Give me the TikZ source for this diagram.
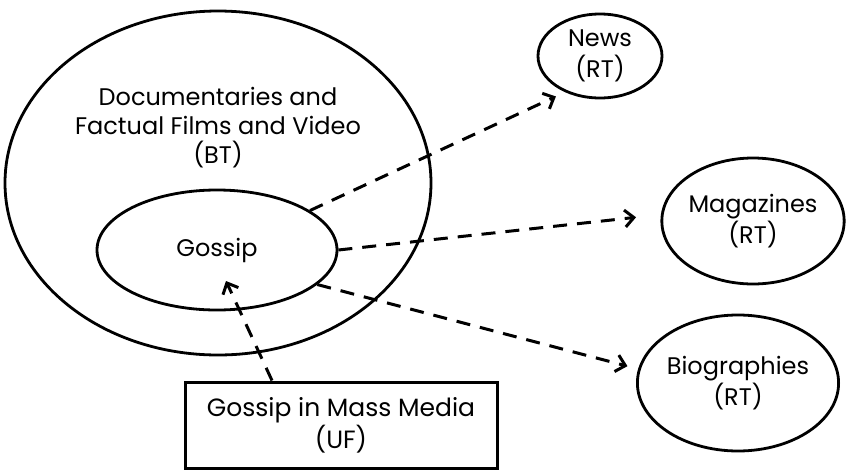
\documentclass[tikz,border=0pt]{standalone}
\usepackage{fontspec}
\setmainfont{Poppins}
\usepackage{tikz}
\usetikzlibrary{shapes,arrows.meta,positioning,calc}

\tikzset{
  term/.style={ellipse,draw,line width=2.8pt,inner sep=0pt,align=center,font=\fontsize{24}{31}\selectfont},
  rel/.style={line width=3pt,dash pattern=on 14pt off 10pt,-{Straight Barb[length=9pt,width=17pt,line width=3pt]}}
}

\begin{document}
\begin{tikzpicture}[x=1pt,y=-1pt]
    \useasboundingbox (0,0) rectangle (847,472);

    % Broader term
    \node[term,minimum width=426pt,minimum height=344pt] (bt) at (218,183) {};
    \node[align=center,font=\fontsize{24}{29}\selectfont] (btlabel) at (218,128) {Documentaries and\\Factual Films and Video\\(BT)};

    % Gossip
    \node[term,minimum width=240pt,minimum height=120pt] (gossip) at (217,250) {Gossip};
    \coordinate (gossipin) at (226,281);

    % Related terms
    \node[term,minimum width=124pt,minimum height=84pt] (news) at (600,56) {News\\(RT)};
    \node[term,minimum width=176pt,minimum height=126pt] (mag) at (753,221) {Magazines\\(RT)};
    \node[term,minimum width=192pt,minimum height=136pt] (bio) at (738,383) {Biographies\\(RT)};

    % Used for
    \node[rectangle,draw,line width=3pt,minimum width=312pt,minimum height=86pt,align=center,font=\fontsize{25}{32}\selectfont] (uf) at (341,425) {Gossip in Mass Media\\(UF)};

    % Links
    \draw[rel,shorten >=10pt] (gossip.23) -- (news.226);
    \draw[rel,shorten >=25pt] (gossip.east) -- (mag.176);
    \draw[rel,shorten >=11pt] (gossip.-19) -- (bio.172);
    \draw[rel] ([xshift=-69pt]uf.north) -- (gossipin);
\end{tikzpicture}
\end{document}
